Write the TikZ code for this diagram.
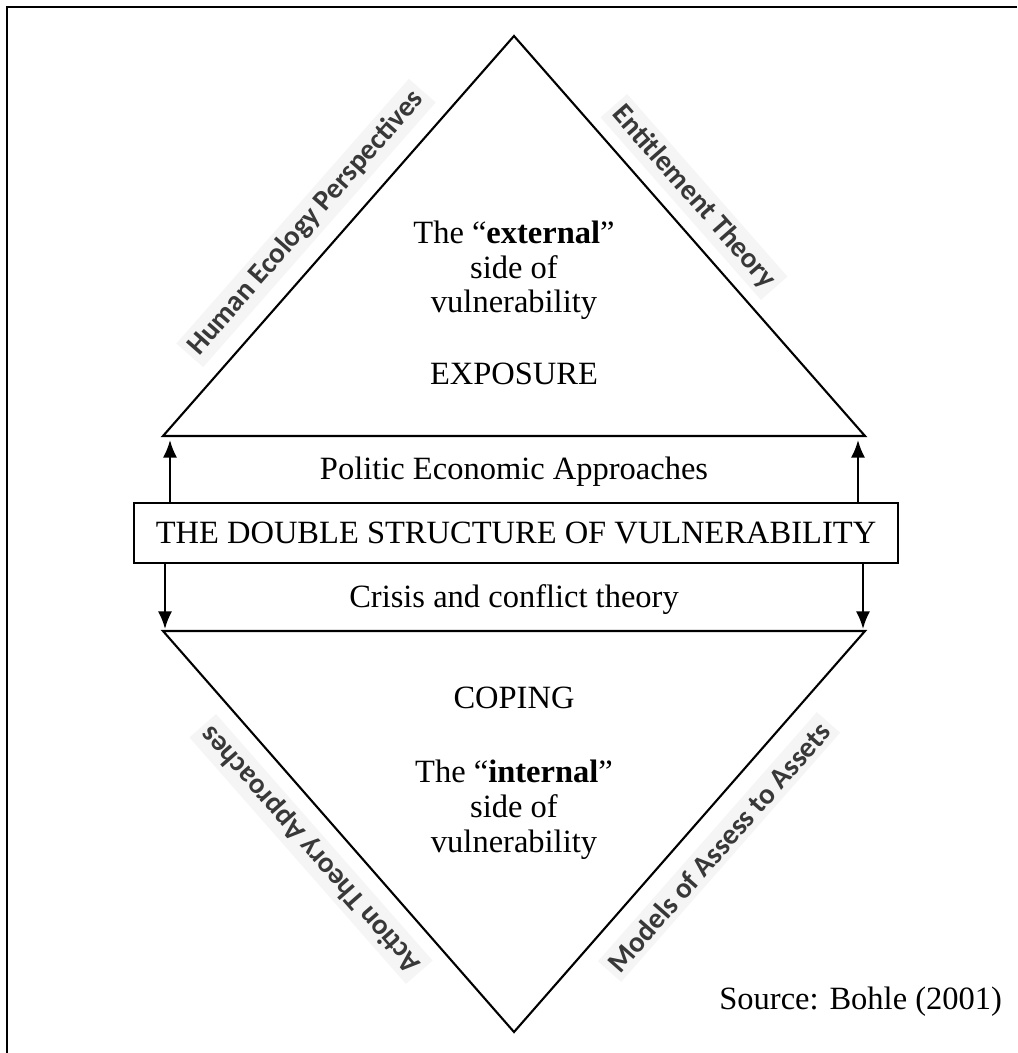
\documentclass[tikz,border=0pt]{standalone}
\usepackage{fontspec}
\setmainfont{Liberation Serif}
\newfontfamily\sidefont{Carlito}
\usepackage{tikz}
\usetikzlibrary{arrows.meta}

\tikzset{
	body/.style = {font = \fontsize{18.5}{19.9}\selectfont, align = center, anchor = base, inner sep = 0pt},
	side/.style = {font = \sidefont\bfseries\fontsize{16.5}{18}\selectfont, text = black!78, fill = black!4, inner sep = 3pt},
	link/.style = {line width = 1.2pt, -{Latex[length = 10pt, width = 8pt]}}
}

\begin{document}
\begin{tikzpicture}[x = 0.02cm, y = -0.02cm, line width = 1.2pt]
	\useasboundingbox (0,0) rectangle (1017,1053);
	\draw (1017,7) -- (7,7) -- (7,1053);

	\coordinate (topA) at (514,36);
	\coordinate (topL) at (163,436);
	\coordinate (topR) at (865,436);
	\coordinate (botL) at (163,631);
	\coordinate (botR) at (865,631);
	\coordinate (botA) at (514,1032);
	\draw (topL) -- (topA) -- (topR) -- cycle;
	\draw (botL) -- (botA) -- (botR) -- cycle;

	\node[draw, body, anchor = center, minimum width = 15.3cm, minimum height = 1.2cm] (dbl) at (516,533) {THE DOUBLE STRUCTURE OF VULNERABILITY};

	\coordinate (upL) at (170,440);
	\coordinate (upR) at (858,440);
	\coordinate (dnL) at (165,629);
	\coordinate (dnR) at (863,629);
	\draw[link] (dbl.north -| upL) -- (upL);
	\draw[link] (dbl.north -| upR) -- (upR);
	\draw[link] (dbl.south -| dnL) -- (dnL);
	\draw[link] (dbl.south -| dnR) -- (dnR);

	% last line of each block sits on the given point
	\node[body] (ext) at (514,313) {The ``\textbf{external}''\\ side of\\ vulnerability};
	\node[body] (expo) at (514,385) {EXPOSURE};
	\node[body] (pol) at (514,479) {Politic Economic Approaches};
	\node[body] (cri) at (514,607) {Crisis and conflict theory};
	\node[body] (cop) at (514,708) {COPING};
	\node[body] (int) at (514,852) {The ``\textbf{internal}''\\ side of\\ vulnerability};
	\node[body, anchor = base east] (src) at (1003,1009) {Source: Bohle (2001)};

	\node[side, rotate = 48.7] (hum) at (306,223) {Human Ecology Perspectives};
	\node[side, rotate = -48.7] (ent) at (694,197) {Entitlement Theory};
	\node[side, rotate = 131.3] (act) at (311,849) {Action Theory Approaches};
	\node[side, rotate = 48.7] (mod) at (719,847) {Models of Assess to Assets};
\end{tikzpicture}
\end{document}
